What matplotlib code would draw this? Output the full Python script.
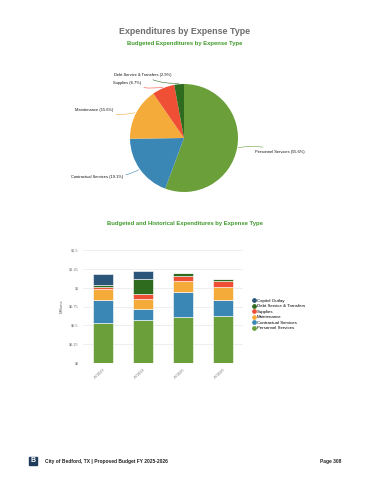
import numpy as np
import matplotlib
matplotlib.use('Agg')
import matplotlib.pyplot as plt
from matplotlib.patches import Rectangle

plt.rcParams['font.family'] = ['Liberation Sans', 'DejaVu Sans']

# pie data (budget)
pie_labels = ['Personnel Services', 'Contractual Services', 'Maintenance',
              'Supplies', 'Debt Service & Transfers']
pie_pcts = [55.6, 19.1, 15.6, 6.7, 2.9]
pie_colors = ['#6a9f3a', '#3a87b5', '#f5ab3a', '#ee4f35', '#2f6b1f']

# stacked bar data (millions)
years = ['FY2023', 'FY2024', 'FY2025', 'FY2026']
personnel = [0.53, 0.575, 0.61, 0.62]
contractual = [0.30, 0.138, 0.33, 0.213]
maintenance = [0.15, 0.141, 0.146, 0.174]
supplies = [0.03, 0.066, 0.075, 0.075]
debt = [0.02, 0.196, 0.035, 0.032]
capital = [0.15, 0.11, 0.0, 0.0]

series = [('Personnel Services', personnel, '#6a9f3a'),
          ('Contractual Services', contractual, '#3a87b5'),
          ('Maintenance', maintenance, '#f5ab3a'),
          ('Supplies', supplies, '#ee4f35'),
          ('Debt Service & Transfers', debt, '#2f6b1f'),
          ('Capital Outlay', capital, '#2c557a')]

W, H = 370, 480
fig = plt.figure(figsize=(W / 100, H / 100), dpi=100)


def fx(px):
    return px / W


def fy(py):
    return 1 - py / H


# titles
fig.text(fx(185), fy(31), 'Expenditures by Expense Type', ha='center', va='center',
         fontsize=6.4, fontweight='bold', color='#6d6d6d')
fig.text(fx(185), fy(44), 'Budgeted Expenditures by Expense Type', ha='center', va='center',
         fontsize=4.2, fontweight='bold', color='#3f9a2a')
fig.text(fx(185), fy(224), 'Budgeted and Historical Expenditures by Expense Type', ha='center',
         va='center', fontsize=4.2, fontweight='bold', color='#3f9a2a')

# pie
cx, cy, r = 184, 138, 54
ax_pie = fig.add_axes([fx(cx - r), fy(cy + r), fx(2 * r), (2 * r) / H])
wedges, _ = ax_pie.pie(pie_pcts, colors=pie_colors, startangle=90, counterclock=False,
                       radius=1, wedgeprops=dict(linewidth=0))
ax_pie.set_xlim(-1, 1)
ax_pie.set_ylim(-1, 1)
ax_pie.set_aspect('auto')
ax_pie.axis('off')

# label positions in pixels (text anchor) and alignment
label_pos = [(253, 152, 'left'), (125, 177, 'right'), (115, 110, 'right'),
             (143, 83, 'right'), (173, 75, 'right')]
for w, name, pct, col, (tx, ty, ha) in zip(wedges, pie_labels, pie_pcts, pie_colors, label_pos):
    ang = np.deg2rad((w.theta1 + w.theta2) / 2)
    ex, ey = np.cos(ang) * 1.02, np.sin(ang) * 1.02
    txt = f'{name} ({pct}%)'
    off = 2 if ha == 'left' else -2
    ax_pie.annotate(txt, xy=(ex, ey), xycoords='data',
                    xytext=(fx(tx + off), fy(ty)), textcoords='figure fraction',
                    ha=ha, va='center', fontsize=2.9, color='#111111',
                    annotation_clip=False,
                    arrowprops=dict(arrowstyle='-', color=col, lw=0.4,
                                    shrinkA=0, shrinkB=0,
                                    connectionstyle='arc3,rad=0.15'))

# stacked bars
ax = fig.add_axes([fx(83), fy(363), fx(243) - fx(83), (363 - 250) / H])
x = np.arange(len(years))
bottom = np.zeros(len(years))
for name, vals, col in series:
    vals = np.array(vals)
    ax.bar(x, vals, width=0.48, bottom=bottom, color=col, edgecolor='white',
           linewidth=0.4, label=name, zorder=3)
    bottom += vals
ax.set_xlim(-0.5, 3.5)
ax.set_ylim(0, 1.5)
ticks = [0, 0.25, 0.5, 0.75, 1, 1.25, 1.5]
ax.set_yticks(ticks)
ax.set_yticklabels(['$0', '$0.25', '$0.5', '$0.75', '$1', '$1.25', '$1.5'],
                   fontsize=2.8, color='#777777')
ax.set_xticks(x)
ax.set_xticklabels(years, rotation=45, ha='right', rotation_mode='anchor',
                   fontsize=2.8, color='#777777')
ax.tick_params(length=0, pad=3)
ax.grid(axis='y', color='#e8e8e8', lw=0.5, zorder=0)
for s in ax.spines.values():
    s.set_visible(False)
ax.set_ylabel('Millions', fontsize=3, color='#666666', labelpad=4)

handles, labels = ax.get_legend_handles_labels()
leg_handles = [plt.Line2D([], [], marker='o', ls='', color=h.patches[0].get_facecolor(),
                          markersize=2.4) for h in handles[::-1]]
fig.legend(leg_handles, labels[::-1], loc='center left',
           bbox_to_anchor=(fx(250), fy(314.5)), frameon=False, fontsize=3.2,
           handletextpad=0.3, labelspacing=0.3, borderpad=0, handlelength=0.8)

# footer
fig.patches.append(Rectangle((fx(29), fy(465)), fx(8), 8 / H, transform=fig.transFigure,
                             color='#1f3b5c'))
fig.text(fx(33), fy(461), 'B', ha='center', va='center', fontsize=5, fontweight='bold',
         color='white')
fig.text(fx(45), fy(461), 'City of Bedford, TX | Proposed Budget FY 2025-2026', ha='left',
         va='center', fontsize=3.5, fontweight='bold', color='#222222')
fig.text(fx(341), fy(461), 'Page 308', ha='right', va='center', fontsize=3.5,
         fontweight='bold', color='#222222')

fig.savefig('out.png', dpi=100)
